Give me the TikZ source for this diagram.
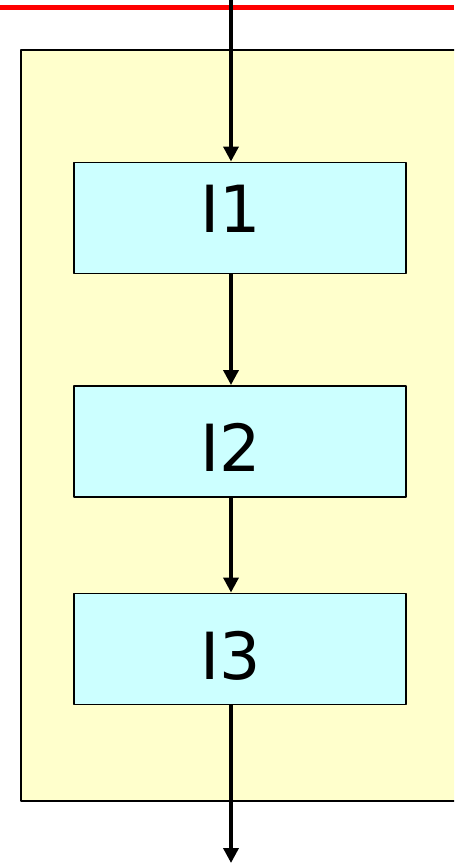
\documentclass[tikz,border=0pt]{standalone}
\usepackage{fontspec}
\setmainfont{DejaVu Sans}
\usetikzlibrary{arrows.meta}
\definecolor{paleyellow}{HTML}{FFFFCC}
\definecolor{palecyan}{HTML}{CCFFFF}
\tikzset{
	blk/.style={draw=black,line width=1.1pt,fill=palecyan,minimum width=332*0.02cm,minimum height=111*0.02cm,inner sep=0pt},
	lbl/.style={inner sep=0pt,font=\fontsize{37}{40}\selectfont},
	flow/.style={->,line width=2pt}
}
\begin{document}
\begin{tikzpicture}[x=0.02cm,y=-0.02cm,line join=round,>={Triangle[length=8.5pt,width=8.5pt]}]
				\clip (0,0) rectangle (454,864);
				\useasboundingbox (0,0) rectangle (454,864);
				\draw[red,line width=3.4pt] (0,7.5) coordinate (L)--(454,7.5) coordinate (R);
				\draw[line width=1.1pt,fill=paleyellow] (21,50) rectangle (470,801);
				\foreach\n/\y/\t in {I1/218/208.5, I2/441.5/447, I3/649/655.5}{
					\node[blk] (\n) at (240,\y) {};
					\node[lbl] (t\n) at (230.5,\t) {\n};
				};
				\coordinate (in) at (231,0);
				\coordinate (out) at (231,863);
				\draw[flow] (in)--(in |- I1.north);
				\draw[flow] (in |- I1.south)--(in |- I2.north);
				\draw[flow] (in |- I2.south)--(in |- I3.north);
				\draw[flow] (in |- I3.south)--(out);
			\end{tikzpicture}
\end{document}
